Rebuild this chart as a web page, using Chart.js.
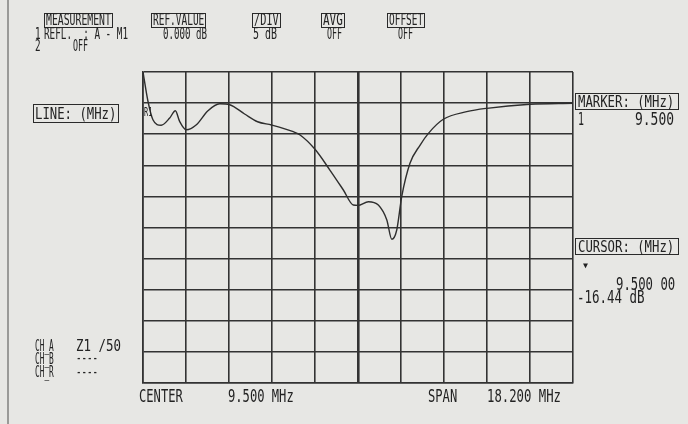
<!DOCTYPE html>
<html>
<head>
<meta charset="utf-8">
<script src="https://cdn.jsdelivr.net/npm/chart.js@4.4.1/dist/chart.umd.min.js"></script>
<style>
  html, body { margin:0; padding:0; background:#e7e7e4; }
  #wrap { position:relative; width:688px; height:424px; overflow:hidden; background:#e7e7e4; }
  #c { position:absolute; left:0; top:0; }
  .t { position:absolute; white-space:pre; color:#222; font-family:"DejaVu Sans Mono","Liberation Mono",monospace; line-height:1; transform-origin:0 0; }
  .box { position:absolute; border:1.5px solid #2a2a2a; box-sizing:border-box; }
  #lborder { position:absolute; left:7px; top:0; width:2px; height:424px; background:#9a9a98; }
</style>
</head>
<body>
<div id="wrap">
  <div id="lborder"></div>
  <canvas id="c" width="688" height="424"></canvas>
</div>
<script>
// ---- data ----
const freqMHz = [0.40, 0.61, 0.82, 1.17, 1.53, 1.77, 1.95, 2.23, 2.66, 3.15, 3.65, 4.07, 4.70, 5.25, 5.84, 6.76, 7.05, 7.68, 8.31, 8.88, 9.30, 9.50, 9.94, 10.36, 10.72, 10.93, 11.14, 11.35, 11.70, 12.13, 12.48, 13.11, 14.10, 14.95, 16.78, 18.60];
const reflDb  = [5.0, 0.3, -2.67, -3.57, -2.40, -1.22, -2.93, -4.28, -3.47, -1.22, -0.10, -0.26, -1.75, -3.0, -3.52, -4.60, -5.13, -7.43, -10.76, -13.97, -16.38, -16.44, -15.85, -16.38, -18.79, -21.9, -20.4, -15.05, -9.68, -6.74, -4.86, -2.60, -1.38, -0.84, -0.19, -0.03];
const xGridTicks = [0.4, 2.22, 4.04, 5.86, 7.68, 9.5, 11.32, 13.14, 14.96, 16.78, 18.6];
const yGridTicks = [5, 0, -5, -10, -15, -20, -25, -30, -35, -40, -45];
const centerMHz = 9.5;

// ---- text labels ----
// [text, x, capTop, fontSize, charPitch]
const labels = [
  ["MEASUREMENT", 46, 15, 15, 5.9],
  ["1", 35, 29, 15, 5.6],
  ["REFL.  : A - M1", 44, 29, 15, 5.6],
  ["2", 35, 41, 15, 5.6],
  ["OFF", 73, 41, 15, 5.0],
  ["REF.VALUE", 153, 15, 15, 5.7],
  ["0.000 dB", 163, 29, 15, 5.5],
  ["/DIV", 254, 15, 15, 6.2],
  ["5 dB", 253, 29, 15, 6.0],
  ["AVG", 323, 15, 15, 6.6],
  ["OFF", 327, 29, 15, 5.0],
  ["OFFSET", 389, 15, 15, 5.7],
  ["OFF", 398, 29, 15, 5.0],
  ["LINE: (MHz)", 35, 108, 16, 7.4],
  ["CH_A", 35, 340, 16, 4.7],
  ["Z1 /50", 76, 340, 16, 7.5],
  ["CH_B", 35, 353, 16, 4.7],
  ["----", 76, 352, 16, 5.5],
  ["CH_R", 35, 366, 16, 4.7],
  ["----", 76, 366, 16, 5.5],
  ["MARKER: (MHz)", 578, 96, 16, 7.4],
  ["1", 578, 113, 17, 6.0],
  ["9.500", 635, 113, 17, 7.8],
  ["CURSOR: (MHz)", 578, 241, 16, 7.4],
  ["9.500 00", 616, 277, 18, 7.4],
  ["-16.44 dB", 577, 290, 18, 7.5],
  ["CENTER", 139, 389, 18, 7.3],
  ["9.500 MHz", 228, 389, 18, 7.3],
  ["SPAN", 428, 389, 18, 7.3],
  ["18.200 MHz", 487, 389, 18, 7.4],
  ["R1", 144, 107, 13, 4.2],
  ["\u25BC", 583, 263, 8, 5.0]
];
// boxes [x, y, w, h]
const boxes = [
  [44, 13, 69, 15], [151, 13, 55, 15], [252, 13, 29, 15], [321, 13, 24, 15], [387, 13, 38, 15],
  [33, 104, 86, 19], [575, 93, 104, 17], [575, 238, 104, 17]
];

const wrap = document.getElementById('wrap');
boxes.forEach(b => {
  const d = document.createElement('div');
  d.className = 'box';
  d.style.left = b[0] + 'px'; d.style.top = b[1] + 'px';
  d.style.width = b[2] + 'px'; d.style.height = b[3] + 'px';
  wrap.appendChild(d);
});
labels.forEach(l => {
  const [txt, x, capTop, fs, pitch] = l;
  const d = document.createElement('div');
  d.className = 't';
  d.textContent = txt;
  d.style.fontSize = fs + 'px';
  d.style.left = x + 'px';
  d.style.top = (capTop - 0.12 * fs) + 'px';
  wrap.appendChild(d);
  const w = d.getBoundingClientRect().width;
  if (w > 0) d.style.transform = 'scaleX(' + ((pitch * txt.length) / w) + ')';
});

const gridColor = '#333333';
new Chart(document.getElementById('c'), {
  type: 'line',
  data: {
    datasets: [{
      data: freqMHz.map((f, i) => ({ x: f, y: reflDb[i] })),
      borderColor: '#2e2e2e',
      borderWidth: 1.4,
      pointRadius: 0,
      cubicInterpolationMode: 'monotone',
      fill: false
    }]
  },
  options: {
    responsive: false,
    animation: false,
    layout: { padding: { left: 143, top: 72, right: 115, bottom: 41 } },
    plugins: { legend: { display: false }, tooltip: { enabled: false } },
    scales: {
      x: {
        type: 'linear', min: 0.4, max: 18.6,
        afterBuildTicks: s => { s.ticks = xGridTicks.map(v => ({ value: v })); },
        ticks: { display: false },
        grid: {
          color: gridColor, drawTicks: false,
          lineWidth: ctx => (ctx.tick && Math.abs(ctx.tick.value - centerMHz) < 1e-6) ? 2.6 : 1.6
        },
        border: { display: true, color: gridColor, width: 1.6 }
      },
      y: {
        type: 'linear', min: -45, max: 5,
        afterBuildTicks: s => { s.ticks = yGridTicks.map(v => ({ value: v })); },
        ticks: { display: false },
        grid: { color: gridColor, drawTicks: false, lineWidth: 1.6 },
        border: { display: true, color: gridColor, width: 1.6 }
      }
    }
  }
});
</script>
</body>
</html>
